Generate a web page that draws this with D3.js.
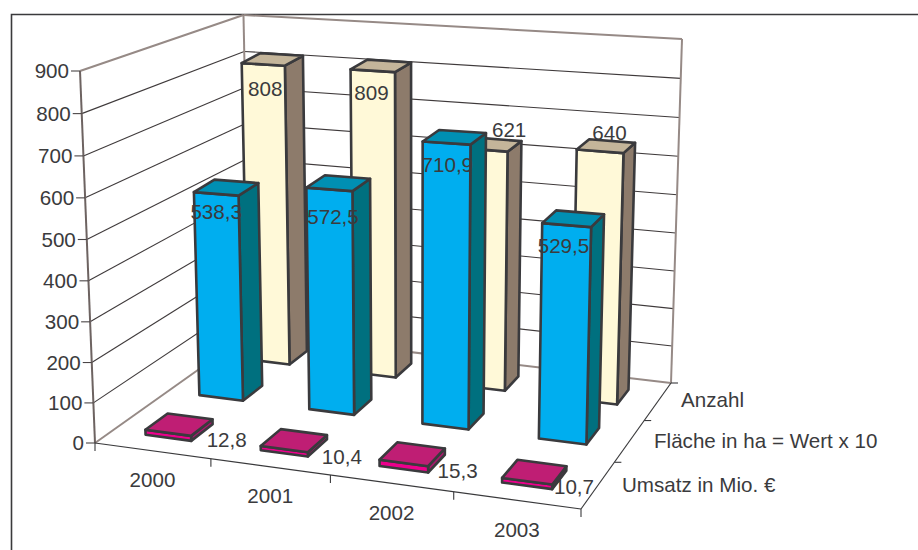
<!DOCTYPE html>
<html>
<head>
<meta charset="utf-8">
<script src="https://cdn.jsdelivr.net/npm/d3@7"></script>
<style>
  html, body { margin: 0; padding: 0; background: #fff; }
  svg { display: block; }
  text { font-family: "Liberation Sans", Arial, sans-serif; font-size: 20.6px; fill: #3b3b3d; }
</style>
</head>
<body>
<svg id="chart" width="918" height="550"></svg>
<script>
const years = ['2000', '2001', '2002', '2003'];
const seriesNames = ['Umsatz in Mio. €', 'Fläche in ha = Wert x 10', 'Anzahl'];
const umsatz = [12.8, 10.4, 15.3, 10.7];
const flaeche = [538.3, 572.5, 710.9, 529.5];
const anzahl = [808, 809, 621, 640];
const valueTicks = [0, 100, 200, 300, 400, 500, 600, 700, 800, 900];

const svg = d3.select('#chart');
const fmt = v => String(v).replace('.', ',');

// floor of the box on screen, A front left, B front right, C back right, D back left
const A = [95, 443], B = [581, 509], C = [671, 383], D = [250, 333];
const vanish = [415, 8383];            // the uprights converge down here
const wallRise = { A: 372, B: 400, C: 344, D: 318 };
const barRise = { A: 348, B: 394, C: 344, D: 322 };

// unit square -> floor quad
const floorMap = (() => {
    const dx1 = B[0] - C[0], dx2 = D[0] - C[0], sx = A[0] - B[0] + C[0] - D[0];
    const dy1 = B[1] - C[1], dy2 = D[1] - C[1], sy = A[1] - B[1] + C[1] - D[1];
    const den = dx1 * dy2 - dx2 * dy1;
    const g = (sx * dy2 - dx2 * sy) / den;
    const h = (dx1 * sy - sx * dy1) / den;
    const a = B[0] - A[0] + g * B[0], b = D[0] - A[0] + h * D[0];
    const d = B[1] - A[1] + g * B[1], e = D[1] - A[1] + h * D[1];
    return (u, w) => {
        const q = g * u + h * w + 1;
        return [(a * u + b * w + A[0]) / q, (d * u + e * w + A[1]) / q];
    };
})();

const value01 = d3.scaleLinear().domain([0, 900]).range([0, 1]);
const wallStretch = t => t / (t + (1 - t) * 1.035);   // grid spacing opens up towards the top

function project(u, w, value, rise, stretch) {
    const p = floorMap(u, w);
    const top = (rise.A * (1 - u) + rise.B * u) * (1 - w) + (rise.D * (1 - u) + rise.C * u) * w;
    const t = value01(value);
    const up = top * (stretch ? stretch(t) : t);
    const lean = (vanish[0] - p[0]) / (vanish[1] - p[1]);
    return [p[0] - up * lean, p[1] - up];
}
const wallPt = (u, w, value) => project(u, w, value, wallRise, wallStretch);
const barPt = (u, w, value) => project(u, w, value, barRise);

const x = d3.scaleBand().domain(years).range([0, 0.995]).paddingInner(0.6).paddingOuter(0.29);
const z = d3.scaleBand().domain(seriesNames).range([0, 1]).paddingInner(0.6).paddingOuter(0.3);
const xTick = d3.scalePoint().domain(d3.range(years.length + 1)).range([0, 1]);
const zTick = d3.scalePoint().domain(d3.range(seriesNames.length + 1)).range([0, 1]);

const line = d3.line();
const closed = pts => line(pts) + 'Z';
const seg = (g, a, b, stroke, width) => g.append('line')
    .attr('x1', a[0]).attr('y1', a[1]).attr('x2', b[0]).attr('y2', b[1])
    .attr('stroke', stroke).attr('stroke-width', width);

// outer frame, runs off the page on the right and at the bottom
svg.append('path').attr('d', 'M11.5,550V14.5H918').attr('fill', 'none')
    .attr('stroke', '#3a3a3c').attr('stroke-width', 1.6);

// walls and grid
const walls = svg.append('g');
valueTicks.slice(1, -1).forEach(v => {
    seg(walls, wallPt(0, 0, v), wallPt(0, 1, v), '#3f3a3b', 1.1);
    seg(walls, wallPt(0, 1, v), wallPt(1, 1, v), '#3f3a3b', 1.1);
});
const wallEdge = '#968a86';
seg(walls, wallPt(0, 0, 0), wallPt(0, 1, 0), wallEdge, 2);
seg(walls, wallPt(0, 1, 0), wallPt(1, 1, 0), wallEdge, 2);
seg(walls, wallPt(0, 0, 900), wallPt(0, 1, 900), wallEdge, 2);
seg(walls, wallPt(0, 1, 900), wallPt(1, 1, 900), wallEdge, 2);
seg(walls, wallPt(0, 1, 0), wallPt(0, 1, 900), wallEdge, 2);
seg(walls, wallPt(1, 1, 0), wallPt(1, 1, 900), wallEdge, 2);
seg(walls, wallPt(0, 0, 0), wallPt(0, 0, 900), '#6d6361', 2);

// axes
const axes = svg.append('g');
seg(axes, wallPt(0, 0, 0), wallPt(1, 0, 0), '#3a3a3c', 1.2);
seg(axes, wallPt(1, 0, 0), wallPt(1, 1, 0), '#3a3a3c', 1.2);
valueTicks.forEach(v => {
    const p = wallPt(0, 0, v);
    seg(axes, p, [p[0] - 9, p[1]], '#4a4546', 1.1);
    axes.append('text').attr('x', p[0] - 11).attr('y', p[1]).attr('dy', '0.36em')
        .attr('text-anchor', 'end').text(v);
});
xTick.domain().forEach(i => {
    const p = wallPt(xTick(i), 0, 0);
    seg(axes, p, [p[0], p[1] + 8], '#3a3a3c', 1.1);
});
zTick.domain().slice(1).forEach(i => {
    const p = wallPt(1, zTick(i), 0);
    seg(axes, p, [p[0] + 7, p[1]], '#3a3a3c', 1.1);
});
years.forEach((y, i) => {
    const p = wallPt((xTick(i) + xTick(i + 1)) / 2, 0, 0);
    axes.append('text').attr('x', p[0]).attr('y', p[1] + 29).attr('dy', '0.36em')
        .attr('text-anchor', 'middle').text(y);
});

const seriesLabelPos = [[622, 492], [654, 448], [681, 407]];
seriesNames.forEach((name, i) => {
    axes.append('text').attr('x', seriesLabelPos[i][0]).attr('y', seriesLabelPos[i][1]).text(name);
});

// bars, back row first so the nearer rows cover it
const seriesValues = [umsatz, flaeche, anzahl];
const faceColors = [
    { front: '#ec008c', side: '#a8186c', top: '#bf1e74' },
    { front: '#00aeef', side: '#00707f', top: '#008fb3' },
    { front: '#fff9d8', side: '#8d7b6b', top: '#c4b59a' }
];
// where the value labels sit relative to the top front edge of their bar
const labelNudge = [
    [[58.5, 7], [57.7, 7.5], [53.8, 8], [46.9, 5]],
    [[0, 18], [3.7, 27], [0.8, 22], [-3.1, 20]],
    [[2, 24], [-1.2, 22], [24.3, -20], [9.4, -19]]
];

const bars = [];
[2, 1, 0].forEach(s => years.forEach((y, i) => bars.push({ s, i, year: y, value: seriesValues[s][i] })));

svg.append('g').selectAll('g').data(bars).join('g')
    .each(function (d) {
        const u0 = x(d.year), u1 = u0 + x.bandwidth();
        const w0 = z(seriesNames[d.s]), w1 = w0 + z.bandwidth();
        const g = d3.select(this);
        const c = faceColors[d.s];
        const face = (pts, fill) => g.append('path').attr('d', closed(pts)).attr('fill', fill)
            .attr('stroke', '#3a3a3d').attr('stroke-width', 2.6).attr('stroke-linejoin', 'round');
        face([barPt(u1, w0, 0), barPt(u1, w1, 0), barPt(u1, w1, d.value), barPt(u1, w0, d.value)], c.side);
        face([barPt(u0, w0, 0), barPt(u1, w0, 0), barPt(u1, w0, d.value), barPt(u0, w0, d.value)], c.front);
        face([barPt(u0, w0, d.value), barPt(u1, w0, d.value), barPt(u1, w1, d.value), barPt(u0, w1, d.value)], c.top);
    });

// value labels go over everything
svg.append('g').selectAll('text').data(bars).join('text')
    .attr('text-anchor', 'middle').attr('dy', '0.36em')
    .attr('x', d => barPt(x(d.year) + x.bandwidth() / 2, z(seriesNames[d.s]), d.value)[0] + labelNudge[d.s][d.i][0])
    .attr('y', d => barPt(x(d.year) + x.bandwidth() / 2, z(seriesNames[d.s]), d.value)[1] + labelNudge[d.s][d.i][1])
    .text(d => fmt(d.value));
</script>
</body>
</html>
